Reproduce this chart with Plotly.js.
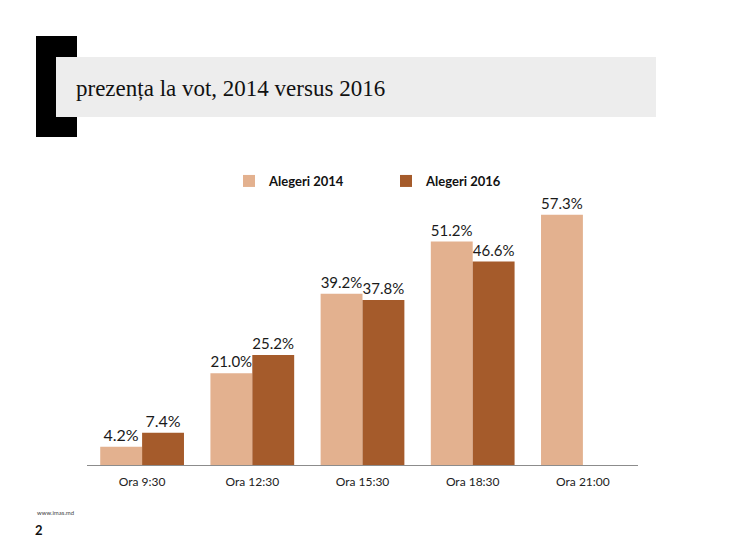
<!DOCTYPE html>
<html>
<head>
<meta charset="utf-8">
<script src="https://cdn.plot.ly/plotly-3.0.1.min.js"></script>
<style>html,body{margin:0;padding:0;background:#fff;}#chart{width:733px;height:550px;}</style>
</head>
<body>
<div id="chart"></div>
<script>
var categories = ["Ora 9:30", "Ora 12:30", "Ora 15:30", "Ora 18:30", "Ora 21:00"];
var values2014 = [4.2, 21.0, 39.2, 51.2, 57.3];
var values2016 = [7.4, 25.2, 37.8, 46.6, null];
var seriesNames = ["Alegeri 2014", "Alegeri 2016"];
var titleText = "prezența la vot, 2014 versus 2016";

// plot area in pixels
var L = 87, R = 638, T = 203, B = 465;
var W = R - L, H = B - T;
function px(x){ return (x - L) / W; }
function py(y){ return (B - y) / H; }

function labels(v){ return v.map(function(d){ return d == null ? "" : d.toFixed(1) + "%"; }); }

var labelFont = {family: "Lato, 'Open Sans', sans-serif", size: 16, color: "#1a1a1a"};

var traces = [
  {type: "bar", name: seriesNames[0], x: categories, y: values2014,
   marker: {color: "#E3B18F"}, text: labels(values2014), textposition: "outside",
   textfont: labelFont, cliponaxis: false, hoverinfo: "skip"},
  {type: "bar", name: seriesNames[1], x: categories, y: values2016,
   marker: {color: "#A55B2B"}, text: labels(values2016), textposition: "outside",
   textfont: labelFont, cliponaxis: false, hoverinfo: "skip"}
];

var layout = {
  width: 733, height: 550,
  margin: {l: L, r: 733 - R, t: T, b: 550 - B, pad: 0},
  paper_bgcolor: "#ffffff", plot_bgcolor: "#ffffff",
  barmode: "group", bargap: 0.24, bargroupgap: 0,
  showlegend: true,
  legend: {orientation: "h", x: px(229), xanchor: "left", y: py(181), yanchor: "middle",
           entrywidth: 112, entrywidthmode: "pixels", itemwidth: 30,
           font: {family: "Lato, 'Open Sans', sans-serif", size: 13, color: "#111", weight: "bold"},
           bgcolor: "rgba(0,0,0,0)", traceorder: "normal"},
  xaxis: {type: "category", showline: true, linecolor: "#8c8c8c", linewidth: 1,
          ticks: "", showgrid: false, zeroline: false, fixedrange: true, ticklabelstandoff: 6,
          tickfont: {family: "Lato, 'Open Sans', sans-serif", size: 12, color: "#222"}},
  yaxis: {range: [0, 60], visible: false, showgrid: false, zeroline: false, fixedrange: true},
  shapes: [
    {type: "rect", xref: "paper", yref: "paper", x0: px(36), x1: px(77), y0: py(137), y1: py(36),
     fillcolor: "#000000", line: {width: 0}, layer: "above"},
    {type: "rect", xref: "paper", yref: "paper", x0: px(56), x1: px(656), y0: py(117), y1: py(57),
     fillcolor: "#EDEDED", line: {width: 0}, layer: "above"}
  ],
  annotations: [
    {text: titleText, xref: "paper", yref: "paper", x: px(74), y: py(88), xanchor: "left", yanchor: "middle",
     showarrow: false, font: {family: "'Liberation Serif', 'DejaVu Serif', serif", size: 23, color: "#111"}},
    {text: "www.imas.md", xref: "paper", yref: "paper", x: px(35), y: py(512), xanchor: "left", yanchor: "middle",
     showarrow: false, font: {family: "Lato, sans-serif", size: 6, color: "#444"}},
    {text: "<b>2</b>", xref: "paper", yref: "paper", x: px(33), y: py(530), xanchor: "left", yanchor: "middle",
     showarrow: false, font: {family: "Lato, sans-serif", size: 13, color: "#111"}}
  ]
};

Plotly.newPlot("chart", traces, layout, {displayModeBar: false, staticPlot: true});
</script>
</body>
</html>
